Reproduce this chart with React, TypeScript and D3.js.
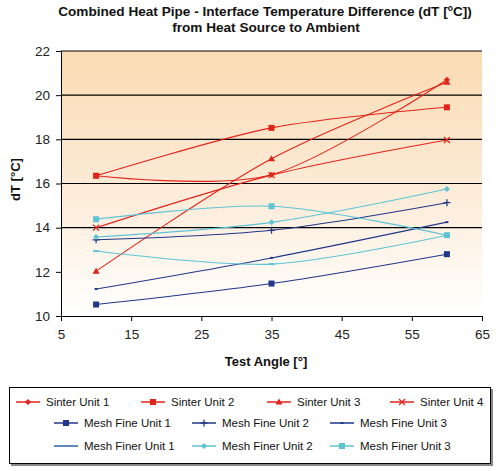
import React, { useEffect, useRef } from 'react';
import * as d3 from 'd3';

// test angles (x) and dT values per unit
const angles = [10, 35, 60];
const sinter1 = [16.35, 16.4, 20.7];
const sinter2 = [16.35, 18.52, 19.45];
const sinter3 = [12.03, 17.12, 20.58];
const sinter4 = [14.0, 16.38, 17.97];
const meshFine1 = [10.52, 11.47, 12.8];
const meshFine2 = [13.45, 13.88, 15.13];
const meshFine3 = [11.22, 12.63, 14.25];
const meshFiner1 = [12.94, 12.35, 13.66];
const meshFiner2 = [13.58, 14.24, 15.75];
const meshFiner3 = [14.38, 14.97, 13.66];

const xTicks = [5, 15, 25, 35, 45, 55, 65];
const yTicks = [10, 12, 14, 16, 18, 20, 22];
const gridValues = [14, 16, 18, 20, 22];

const RED = '#e2231a';
const NAVY = '#22378a';
const BLUE = '#2e5ea8';
const CYAN = '#5ec4d4';

type Marker = 'diamond' | 'square' | 'triangle' | 'x' | 'plus' | 'dash' | 'dot' | 'none';

interface Series {
  name: string;
  values: number[];
  color: string;
  marker: Marker;
  legendColor?: string;
  legendMarker?: Marker;
}

const series: Series[] = [
  { name: 'Sinter Unit 1', values: sinter1, color: RED, marker: 'diamond' },
  { name: 'Sinter Unit 2', values: sinter2, color: RED, marker: 'square' },
  { name: 'Sinter Unit 3', values: sinter3, color: RED, marker: 'triangle' },
  { name: 'Sinter Unit 4', values: sinter4, color: RED, marker: 'x' },
  { name: 'Mesh Fine Unit 1', values: meshFine1, color: NAVY, marker: 'square' },
  { name: 'Mesh Fine Unit 2', values: meshFine2, color: NAVY, marker: 'plus' },
  { name: 'Mesh Fine Unit 3', values: meshFine3, color: NAVY, marker: 'dot' },
  { name: 'Mesh Finer Unit 1', values: meshFiner1, color: CYAN, marker: 'dash', legendColor: BLUE, legendMarker: 'none' },
  { name: 'Mesh Finer Unit 2', values: meshFiner2, color: CYAN, marker: 'diamond' },
  { name: 'Mesh Finer Unit 3', values: meshFiner3, color: CYAN, marker: 'square' },
];

// legend layout: [row y, item x positions]
const legendRows: [number, number[]][] = [
  [402, [16, 141, 267, 390]],
  [423, [54, 192, 330]],
  [446, [54, 192, 330]],
];

const FONT = '"Liberation Sans", Arial, sans-serif';

function drawMarker(g: d3.Selection<SVGGElement, unknown, null, undefined>, type: Marker, x: number, y: number, color: string) {
  switch (type) {
    case 'diamond':
      g.append('path').attr('d', `M${x},${y - 3}L${x + 3},${y}L${x},${y + 3}L${x - 3},${y}Z`).attr('fill', color);
      break;
    case 'square':
      g.append('rect').attr('x', x - 3).attr('y', y - 3).attr('width', 6).attr('height', 6).attr('fill', color);
      break;
    case 'triangle':
      g.append('path').attr('d', `M${x},${y - 3.5}L${x + 3.5},${y + 2.5}L${x - 3.5},${y + 2.5}Z`).attr('fill', color);
      break;
    case 'x':
      g.append('path').attr('d', `M${x - 3},${y - 3}L${x + 3},${y + 3}M${x - 3},${y + 3}L${x + 3},${y - 3}`)
        .attr('stroke', color).attr('stroke-width', 1.2);
      break;
    case 'plus':
      g.append('path').attr('d', `M${x - 3.5},${y}L${x + 3.5},${y}M${x},${y - 3.5}L${x},${y + 3.5}`)
        .attr('stroke', color).attr('stroke-width', 1.3);
      break;
    case 'dash':
      g.append('rect').attr('x', x - 3).attr('y', y - 1).attr('width', 6).attr('height', 2).attr('fill', color);
      break;
    case 'dot':
      g.append('rect').attr('x', x - 1.5).attr('y', y - 1).attr('width', 3).attr('height', 2).attr('fill', color);
      break;
    default:
      break;
  }
}

export default function App() {
  const svgRef = useRef<SVGSVGElement>(null);
  const width = 500;
  const height = 471;

  useEffect(() => {
    const svg = d3.select(svgRef.current);
    svg.selectAll('*').remove();

    const xScale = d3.scaleLinear().domain([5, 65]).range([61, 482]);
    const yScale = d3.scaleLinear().domain([10, 22]).range([316, 51]);
    const [x0, x1] = xScale.range();
    const [yBottom, yTop] = yScale.range();

    // plot background gradient
    const grad = svg.append('defs').append('linearGradient')
      .attr('id', 'bgGrad').attr('x1', 0).attr('y1', 0).attr('x2', 0).attr('y2', 1);
    grad.append('stop').attr('offset', '0%').attr('stop-color', '#fadbb2');
    grad.append('stop').attr('offset', '55%').attr('stop-color', '#fcecd9');
    grad.append('stop').attr('offset', '100%').attr('stop-color', '#ffffff');

    svg.append('rect')
      .attr('x', x0).attr('y', yTop)
      .attr('width', x1 - x0).attr('height', yBottom - yTop)
      .attr('fill', 'url(#bgGrad)');

    // grid lines
    svg.append('g').selectAll('line').data(gridValues).join('line')
      .attr('x1', x0).attr('x2', x1)
      .attr('y1', d => yScale(d)).attr('y2', d => yScale(d))
      .attr('stroke', '#000').attr('stroke-width', 1.2);

    // axes
    const yAxis = svg.append('g')
      .attr('transform', `translate(${x0},0)`)
      .call(d3.axisLeft(yScale).tickValues(yTicks).tickSize(5).tickPadding(6).tickFormat(d3.format('d')));
    yAxis.select('.domain').attr('stroke', '#000');
    yAxis.selectAll('text').style('font-family', FONT).style('font-size', '13.5px').style('fill', '#222');

    const xAxis = svg.append('g')
      .attr('transform', `translate(0,${yBottom})`)
      .call(d3.axisBottom(xScale).tickValues(xTicks).tickSize(5).tickPadding(8).tickFormat(d3.format('d')));
    xAxis.select('.domain').attr('stroke', '#000');
    xAxis.selectAll('text').style('font-family', FONT).style('font-size', '13.5px').style('fill', '#222');

    // series lines
    const line = d3.line<number>()
      .x((_, i) => xScale(angles[i]))
      .y(d => yScale(d))
      .curve(d3.curveCardinal.tension(0.1));

    series.forEach(s => {
      svg.append('path')
        .datum(s.values)
        .attr('fill', 'none')
        .attr('stroke', s.color)
        .attr('stroke-width', 1.1)
        .attr('d', line);
    });
    series.forEach(s => {
      const mg = svg.append('g');
      s.values.forEach((v, i) => drawMarker(mg, s.marker, xScale(angles[i]), yScale(v), s.color));
    });

    // titles
    const title = svg.append('text')
      .attr('x', 265).attr('y', 16)
      .attr('text-anchor', 'middle')
      .style('font-family', FONT).style('font-size', '13.6px').style('font-weight', 'bold')
      .style('fill', '#111');
    title.append('tspan').text('Combined Heat Pipe - Interface Temperature Difference (dT [');
    title.append('tspan').attr('dy', -5).style('font-size', '8.5px').text('o');
    title.append('tspan').attr('dy', 5).text('C])');
    svg.append('text')
      .attr('x', 266).attr('y', 32)
      .attr('text-anchor', 'middle')
      .style('font-family', FONT).style('font-size', '13.6px').style('font-weight', 'bold')
      .style('fill', '#111')
      .text('from Heat Source to Ambient');

    svg.append('text')
      .attr('transform', `translate(20,${(yTop + yBottom) / 2 - 4}) rotate(-90)`)
      .attr('text-anchor', 'middle')
      .style('font-family', FONT).style('font-size', '13px').style('font-weight', 'bold')
      .style('fill', '#111')
      .text('dT [°C]');

    svg.append('text')
      .attr('x', 266).attr('y', 366)
      .attr('text-anchor', 'middle')
      .style('font-family', FONT).style('font-size', '13px').style('font-weight', 'bold')
      .style('fill', '#111')
      .text('Test Angle [°]');

    // legend box with shadow
    svg.append('rect')
      .attr('x', 11).attr('y', 389).attr('width', 482).attr('height', 77)
      .attr('fill', '#888');
    svg.append('rect')
      .attr('x', 9.5).attr('y', 387.5).attr('width', 481).attr('height', 76)
      .attr('fill', '#fff').attr('stroke', '#000').attr('stroke-width', 1);

    let idx = 0;
    legendRows.forEach(([ly, xs]) => {
      xs.forEach(lx => {
        const s = series[idx++];
        if (!s) return;
        const col = s.legendColor ?? s.color;
        const lg = svg.append('g');
        lg.append('line')
          .attr('x1', lx).attr('x2', lx + 24)
          .attr('y1', ly).attr('y2', ly)
          .attr('stroke', col).attr('stroke-width', 1.5);
        drawMarker(lg, s.legendMarker ?? s.marker, lx + 12, ly, col);
        lg.append('text')
          .attr('x', lx + 30).attr('y', ly + 4)
          .style('font-family', FONT).style('font-size', '11.5px')
          .style('fill', '#111')
          .text(s.name);
      });
    });
  }, []);

  return (
    <svg
      ref={svgRef}
      width={width}
      height={height}
      style={{ position: 'absolute', left: 0, top: 0, background: '#fff' }}
    />
  );
}
